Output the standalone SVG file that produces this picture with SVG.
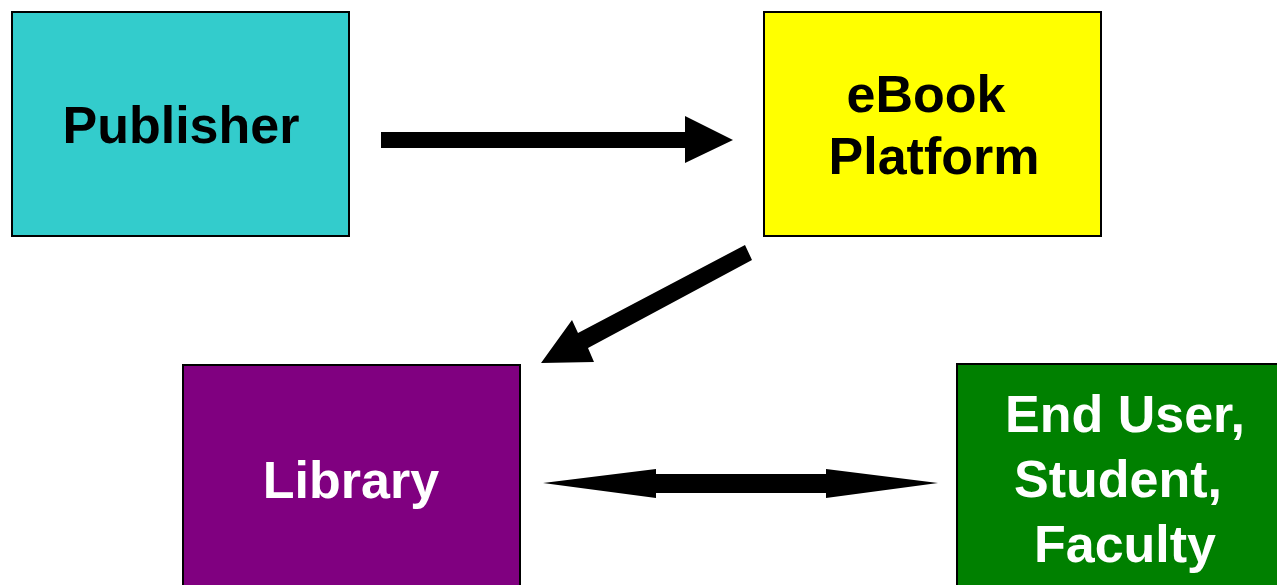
<svg xmlns="http://www.w3.org/2000/svg" width="1277" height="585" viewBox="0 0 1277 585">
<style>
.box{stroke:#000;stroke-width:2}
.t{font-family:"Liberation Sans",Arial,sans-serif;font-weight:bold;font-size:52px;text-anchor:middle}
.dark{fill:#000}
.light{fill:#fff}
.arr{fill:#000}
</style>
<rect width="1277" height="585" fill="#fff"/>
<g id="publisher">
<rect class="box" x="12" y="12" width="337" height="224" fill="#33cccc"/>
<text class="t dark" x="181" y="143">Publisher</text>
</g>
<g id="ebook-platform">
<rect class="box" x="764" y="12" width="337" height="224" fill="#ffff00"/>
<text class="t dark" x="926" y="112">eBook</text>
<text class="t dark" x="934" y="174">Platform</text>
</g>
<g id="library">
<rect class="box" x="183" y="365" width="337" height="225" fill="#800080"/>
<text class="t light" x="351" y="498">Library</text>
</g>
<g id="end-user">
<rect class="box" x="957" y="364" width="337" height="225" fill="#008000"/>
<text class="t light" x="1125" y="432">End User,</text>
<text class="t light" x="1118" y="497">Student,</text>
<text class="t light" x="1125" y="562">Faculty</text>
</g>
<g id="connectors">
<polygon class="arr" points="381,132 685,132 685,116 733,140 685,163 685,148 381,148"/>
<polygon class="arr" points="745,245 752,260 588,348 594,362 541,363 572,320 578,333"/>
<polygon class="arr" points="543,483 656,469 656,474 826,474 826,469 938,483 826,498 826,493 656,493 656,498"/>
</g>
</svg>
